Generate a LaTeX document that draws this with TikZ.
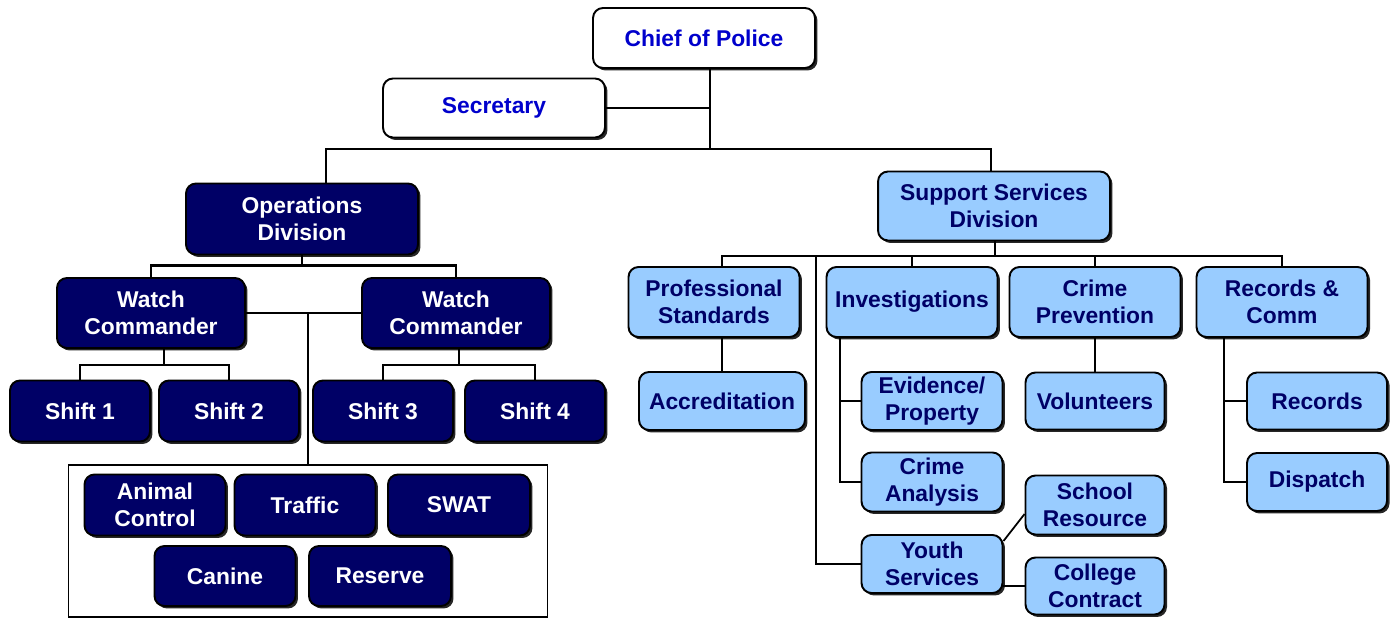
\documentclass[tikz,border=0pt]{standalone}
\usepackage{fontspec}
\setmainfont{Liberation Sans}
\usetikzlibrary{shadows}
\definecolor{navy}{RGB}{0,0,102}
\definecolor{sky}{RGB}{153,204,255}
\definecolor{chiefblue}{RGB}{0,0,204}

\begin{document}
\begin{tikzpicture}[
x=0.02cm, y=-0.02cm,
box/.style={draw=black, line width=1.1pt, rounded corners=0.2cm, align=center, inner sep=1pt, font=\fontsize{13}{15.5}\selectfont\bfseries, drop shadow={shadow xshift=0.05cm, shadow yshift=-0.05cm, fill=black, opacity=0.85}},
topbox/.style={box, fill=white, text=chiefblue},
opsbox/.style={box, fill=navy, text=white},
supbox/.style={box, fill=sky, text=navy},
link/.style={line width=1.5pt}
]
\useasboundingbox (0,0) rectangle (1396,618);

% top of the chart
\node[topbox, minimum width=4.44cm, minimum height=1.2cm] (chief) at (704,38) {Chief of Police};
\node[topbox, minimum width=4.44cm, minimum height=1.18cm] (sec) at (494,108) {Secretary};
\node[opsbox, minimum width=4.64cm, minimum height=1.42cm] (ops) at (302,219) {Operations\\Division};
\node[supbox, minimum width=4.64cm, minimum height=1.38cm] (sup) at (994,206) {Support Services\\Division};

% operations side
\node[opsbox, minimum width=3.76cm, minimum height=1.4cm] (wc1) at (151,313) {Watch\\Commander};
\node[opsbox, minimum width=3.76cm, minimum height=1.4cm] (wc2) at (456,313) {Watch\\Commander};
\node[opsbox, minimum width=2.8cm, minimum height=1.22cm] (s1) at (80,411) {Shift 1};
\node[opsbox, minimum width=2.8cm, minimum height=1.22cm] (s2) at (229,411) {Shift 2};
\node[opsbox, minimum width=2.8cm, minimum height=1.22cm] (s3) at (383,411) {Shift 3};
\node[opsbox, minimum width=2.8cm, minimum height=1.22cm] (s4) at (535,411) {Shift 4};
\node[draw, line width=1pt, minimum width=9.58cm, minimum height=3.04cm] (grp) at (308,541) {};
\node[opsbox, minimum width=2.82cm, minimum height=1.22cm] (animal) at (155,505) {Animal\\Control};
\node[opsbox, minimum width=2.82cm, minimum height=1.22cm] (traffic) at (305,505) {Traffic};
\node[opsbox, minimum width=2.84cm, minimum height=1.22cm] (swat) at (459,505) {SWAT};
\node[opsbox, minimum width=2.82cm, minimum height=1.2cm] (canine) at (225,576) {Canine};
\node[opsbox, minimum width=2.84cm, minimum height=1.2cm] (reserve) at (380,576) {Reserve};

% support side
\node[supbox, minimum width=3.42cm, minimum height=1.4cm] (ps) at (714,302) {Professional\\Standards};
\node[supbox, minimum width=3.42cm, minimum height=1.4cm] (inv) at (912,302) {Investigations};
\node[supbox, minimum width=3.42cm, minimum height=1.4cm] (cp) at (1095,302) {Crime\\Prevention};
\node[supbox, minimum width=3.42cm, minimum height=1.4cm] (rc) at (1282,302) {Records \&\\Comm};
\node[supbox, minimum width=3.32cm, minimum height=1.16cm] (acc) at (722,401) {Accreditation};
\node[supbox, minimum width=2.82cm, minimum height=1.16cm] (ev) at (932,401) {Evidence/\\Property};
\node[supbox, minimum width=2.82cm, minimum height=1.18cm] (ca) at (932,482) {Crime\\Analysis};
\node[supbox, minimum width=2.82cm, minimum height=1.16cm] (youth) at (932,564) {Youth\\Services};
\node[supbox, minimum width=2.78cm, minimum height=1.14cm] (vol) at (1095,401) {Volunteers};
\node[supbox, minimum width=2.78cm, minimum height=1.18cm] (school) at (1095,505) {School\\Resource};
\node[supbox, minimum width=2.78cm, minimum height=1.14cm] (college) at (1095,586) {College\\Contract};
\node[supbox, minimum width=2.8cm, minimum height=1.14cm] (rec) at (1317,401) {Records};
\node[supbox, minimum width=2.8cm, minimum height=1.16cm] (disp) at (1317,482) {Dispatch};

% connectors
\coordinate (topbus) at (710,149);
\draw[link] (chief.south -| topbus) -- (topbus);
\draw[link] (sec.east) -- (sec.east -| topbus);
\draw[link] ([xshift=0.48cm]ops.north) |- (topbus) -| ([xshift=-0.06cm]sup.north);

\draw[link] (ops.south) -- ++(0,10) coordinate (opsbus);
\draw[link] (wc1.north) |- (opsbus) -| (wc2.north);
\draw[link] (wc1.east) -- (wc2.west);
\draw[link] (grp.north |- wc1.east) -- (grp.north);
\coordinate (wc1bus) at (164,365);
\coordinate (wc2bus) at (459,365);
\draw[link] (wc1.south -| wc1bus) -- (wc1bus);
\draw[link] (s1.north) |- (wc1bus) -| (s2.north);
\draw[link] (wc2.south -| wc2bus) -- (wc2bus);
\draw[link] (s3.north) |- (wc2bus) -| (s4.north);

\coordinate (supbus) at (995,256);
\coordinate (youthbus) at (816,256);
\coordinate (invbus) at (840,0);
\coordinate (rcbus) at (1224,0);
\draw[link] (sup.south -| supbus) -- (supbus);
\draw[link] ([xshift=0.16cm]ps.north) |- (supbus) -| (rc.north);
\draw[link] (inv.north) -- (inv.north |- supbus);
\draw[link] (cp.north) -- (cp.north |- supbus);
\draw[link] (youthbus) |- (youth.west);
\draw[link] (acc.north) -- (acc.north |- ps.south);
\draw[link] (inv.south -| invbus) |- (ca.west);
\draw[link] (ev.west) -- (ev.west -| invbus);
\draw[link] (vol.north) -- (vol.north |- cp.south);
\draw[link] (rc.south -| rcbus) |- (disp.west);
\draw[link] (rec.west) -- (rec.west -| rcbus);
\draw[line width=1pt] ([yshift=-0.14cm]youth.north east) -- ([yshift=-0.18cm]school.west);
\draw[link] (college.west) -- (college.west -| youth.east);
\end{tikzpicture}
\end{document}
